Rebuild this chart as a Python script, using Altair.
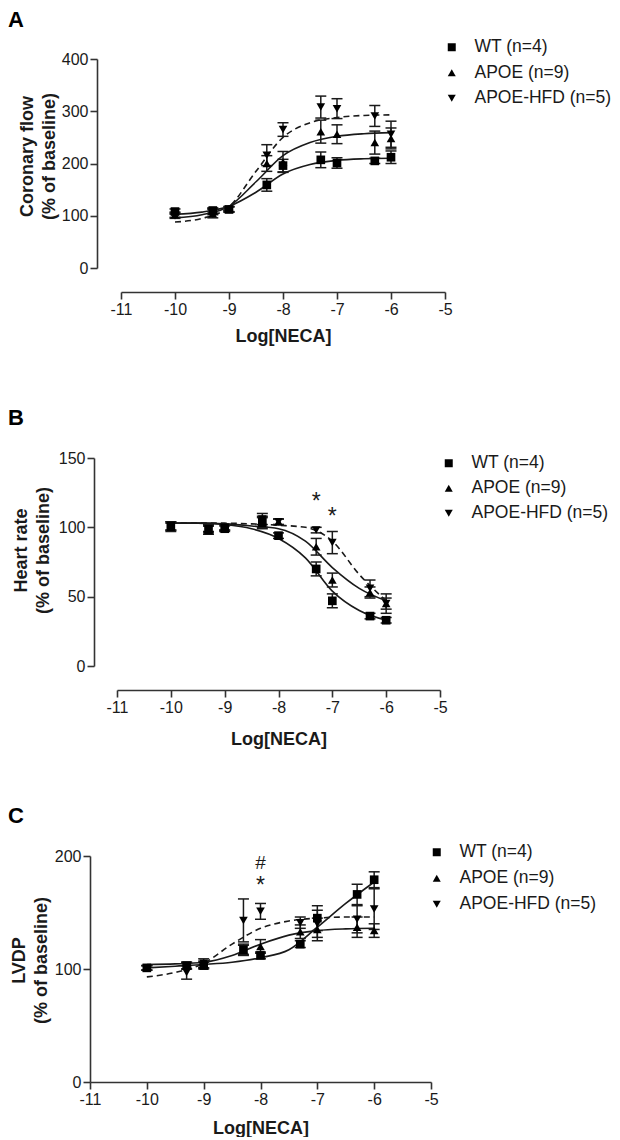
import altair as alt
import pandas as pd

GROUPS = ["WT (n=4)", "APOE (n=9)", "APOE-HFD (n=5)"]
SHAPES = ["square", "triangle-up", "triangle-down"]
DASHED_GROUP = "APOE-HFD (n=5)"
DOSES = [-10, -9.3, -9, -8.3, -8, -7.3, -7, -6.3, -6]
CURVE_X = [-10, -9.5, -9, -8.5, -8, -7.5, -7, -6.5, -6]
X_TICKS = [-11, -10, -9, -8, -7, -6, -5]

# ---- Panel A: coronary flow ----
A_MEAN_WT = [108, 110, 112, 159, 196, 207, 201, 205, 212]
A_SEM_WT = [5, 5, 5, 12, 12, 15, 10, 5, 12]
A_MEAN_APOE = [102, 104, 113, 200, 203, 261, 256, 240, 248]
A_SEM_APOE = [5, 8, 5, 15, 20, 22, 18, 22, 20]
A_MEAN_HFD = [100, 108, 112, 216, 265, 308, 305, 291, 256]
A_SEM_HFD = [5, 6, 5, 20, 13, 21, 19, 20, 25]
A_FIT_WT = [103, 107, 118, 145, 180, 198, 206, 209, 210]
A_FIT_APOE = [96, 102, 118, 165, 215, 240, 252, 257, 259]
A_FIT_HFD = [88, 95, 117, 185, 250, 278, 288, 292, 293]
A_Y_TICKS = [0, 100, 200, 300, 400]

# ---- Panel B: heart rate ----
B_MEAN_WT = [101, 98, 99, 104, 94, 70, 47, 36, 33]
B_SEM_WT = [3, 3, 2, 4, 2, 5, 5, 2, 2]
B_MEAN_APOE = [100, 99, 100, 103, 104, 86, 62, 53, 45]
B_SEM_APOE = [3, 2, 2, 4, 2, 6, 5, 4, 4]
B_MEAN_HFD = [101, 99, 100, 106, 104, 98, 89, 56, 45]
B_SEM_HFD = [3, 3, 2, 4, 2, 2, 8, 6, 7]
B_FIT_WT = [103, 103, 102, 99, 92, 78, 54, 40, 33]
B_FIT_APOE = [103, 103, 102.5, 101, 99, 90, 71, 56, 47]
B_FIT_HFD = [103, 103, 103, 102.5, 101.5, 100, 90, 66, 47]
B_Y_TICKS = [0, 50, 100, 150]
B_MARK_X = [-7.3, -7]
B_MARK_Y = [121, 110]
B_MARK_TEXT = ["*", "*"]

# ---- Panel C: LVDP ----
C_MEAN_WT = [101, 103, 103, 117, 112, 122, 145, 166, 179]
C_SEM_WT = [2, 3, 3, 4, 3, 3, 11, 9, 7]
C_MEAN_APOE = [101, 103, 104, 117, 120, 133, 135, 137, 134]
C_SEM_APOE = [2, 3, 3, 5, 6, 6, 10, 9, 6]
C_MEAN_HFD = [101, 97, 105, 143, 151, 141, 140, 144, 153]
C_SEM_HFD = [2, 6, 4, 19, 7, 5, 12, 12, 18]
C_FIT_WT = [101, 102.5, 104, 106, 110, 117, 137, 158, 177]
C_FIT_APOE = [104, 104.5, 106, 112, 122, 130, 134, 135.5, 136]
C_FIT_HFD = [93, 97, 105, 122, 136, 142.5, 145, 146, 146]
C_Y_TICKS = [0, 100, 200]
C_MARK_X = [-8, -8]
C_MARK_Y = [197, 177]
C_MARK_TEXT = ["#", "*"]

FONT = "Liberation Sans"
INK = "#1a1a1a"


def points_df(means, sems):
    rows = []
    for g, m, s in zip(GROUPS, means, sems):
        for d, mv, sv in zip(DOSES, m, s):
            rows.append({"dose": d, "group": g, "mean": mv, "lo": mv - sv, "hi": mv + sv})
    return pd.DataFrame(rows)


def fit_df(fits):
    rows = []
    for g, f in zip(GROUPS, fits):
        for x, v in zip(CURVE_X, f):
            rows.append({"dose": x, "group": g, "fit": v})
    return pd.DataFrame(rows)


def panel(letter, ytitle, ydom, yticks, means, sems, fits, marks, p):
    pts = points_df(means, sems)
    fit = fit_df(fits)
    xs = alt.Scale(domain=[-11, -5], range=p["xrange"], nice=False, zero=False)
    ys = alt.Scale(domain=ydom, nice=False)
    xaxis = alt.Axis(values=X_TICKS, offset=p["xoff"], labelExpr="'' + datum.value",
                     title="Log[NECA]", titlePadding=p["xtp"])
    yaxis = alt.Axis(values=yticks, offset=p["yoff"], title=ytitle,
                     titleX=p["tx"], titleY=p["ty"])
    X = alt.X("dose:Q", scale=xs, axis=xaxis)

    bars = alt.Chart(pts).mark_rule(color=INK, strokeWidth=1.5).encode(
        x=X, y=alt.Y("lo:Q", scale=ys, axis=yaxis), y2="hi:Q")
    caps = alt.Chart(pts).transform_fold(["lo", "hi"], as_=["end", "yv"]).mark_tick(
        orient="horizontal", color=INK, size=11, thickness=1.5, opacity=1).encode(
        x=X, y=alt.Y("yv:Q", scale=ys, axis=yaxis))
    solid = alt.Chart(fit).transform_filter(alt.datum.group != DASHED_GROUP).mark_line(
        color=INK, strokeWidth=1.6, interpolate="monotone").encode(
        x=X, y=alt.Y("fit:Q", scale=ys, axis=yaxis), detail="group:N")
    dashed = alt.Chart(fit).transform_filter(alt.datum.group == DASHED_GROUP).mark_line(
        color=INK, strokeWidth=1.6, strokeDash=[6, 4], interpolate="monotone").encode(
        x=X, y=alt.Y("fit:Q", scale=ys, axis=yaxis), detail="group:N")
    dots = alt.Chart(pts).mark_point(filled=True, color="black", size=75, opacity=1).encode(
        x=X, y=alt.Y("mean:Q", scale=ys, axis=yaxis),
        shape=alt.Shape("group:N", scale=alt.Scale(domain=GROUPS, range=SHAPES),
                        legend=alt.Legend(title=None, orient="none", legendX=p["lx"], legendY=p["ly"],
                                          labelFontSize=17.5, labelFont=FONT, labelColor=INK,
                                          symbolSize=64, symbolFillColor="black", symbolStrokeWidth=0,
                                          labelOffset=14, rowPadding=p["rp"], padding=0)))
    layers = [bars, caps, solid, dashed, dots]
    if marks is not None:
        mdf = pd.DataFrame({"dose": marks[0], "val": marks[1], "label": marks[2]})
        txt = alt.Chart(mdf).mark_text(font=FONT, color=INK, baseline="middle", dy=4).encode(
            x=X, y=alt.Y("val:Q", scale=ys, axis=yaxis), text="label:N",
            size=alt.condition(alt.datum.label == "#", alt.value(19), alt.value(23)))
        layers.append(txt)
    return alt.layer(*layers).properties(
        width=p["w"], height=p["h"],
        title=alt.TitleParams(text=letter, anchor="start", frame="group", fontSize=22,
                              fontWeight="bold", font=FONT, color="black", dx=-82, offset=p["toff"]))


A = panel("A", ["Coronary flow", "(% of baseline)"], [0, 400], A_Y_TICKS,
          [A_MEAN_WT, A_MEAN_APOE, A_MEAN_HFD], [A_SEM_WT, A_SEM_APOE, A_SEM_HFD],
          [A_FIT_WT, A_FIT_APOE, A_FIT_HFD], None,
          dict(w=355, h=209, xrange=[31, 355], xoff=24, yoff=-7, tx=-61, ty=97, xtp=10,
               lx=353, ly=-20.5, rp=6.5, toff=7))
B = panel("B", ["Heart rate", "(% of baseline)"], [0, 150], B_Y_TICKS,
          [B_MEAN_WT, B_MEAN_APOE, B_MEAN_HFD], [B_SEM_WT, B_SEM_APOE, B_SEM_HFD],
          [B_FIT_WT, B_FIT_APOE, B_FIT_HFD], (B_MARK_X, B_MARK_Y, B_MARK_TEXT),
          dict(w=350, h=208, xrange=[27, 350], xoff=24, yoff=-4, tx=-64, ty=92, xtp=15,
               lx=350, ly=-3.5, rp=6, toff=20))
C = panel("C", ["LVDP", "(% of baseline)"], [0, 200], C_Y_TICKS,
          [C_MEAN_WT, C_MEAN_APOE, C_MEAN_HFD], [C_SEM_WT, C_SEM_APOE, C_SEM_HFD],
          [C_FIT_WT, C_FIT_APOE, C_FIT_HFD], (C_MARK_X, C_MARK_Y, C_MARK_TEXT),
          dict(w=341, h=226, xrange=[0, 341], xoff=0, yoff=0, tx=-62, ty=104, xtp=12,
               lx=338, ly=-12.5, rp=7, toff=16))

chart = alt.vconcat(A, B, C, spacing=190, bounds="flush").resolve_scale(
    x="independent", y="independent", shape="independent"
).resolve_legend(shape="independent").properties(
    padding=0
).configure_view(
    stroke=None
).configure_axis(
    grid=False, domainColor="#333333", domainWidth=1.6, tickColor="#333333", tickWidth=1.6,
    tickSize=7, labelFont=FONT, labelFontSize=16, labelColor=INK, labelPadding=2,
    labelFlush=False, labelOverlap=False,
    titleFont=FONT, titleFontSize=18, titleFontWeight="bold", titleColor=INK,
    titleLineHeight=22
)

chart.save("out.html", embed_options={"renderer": "svg", "actions": False})
